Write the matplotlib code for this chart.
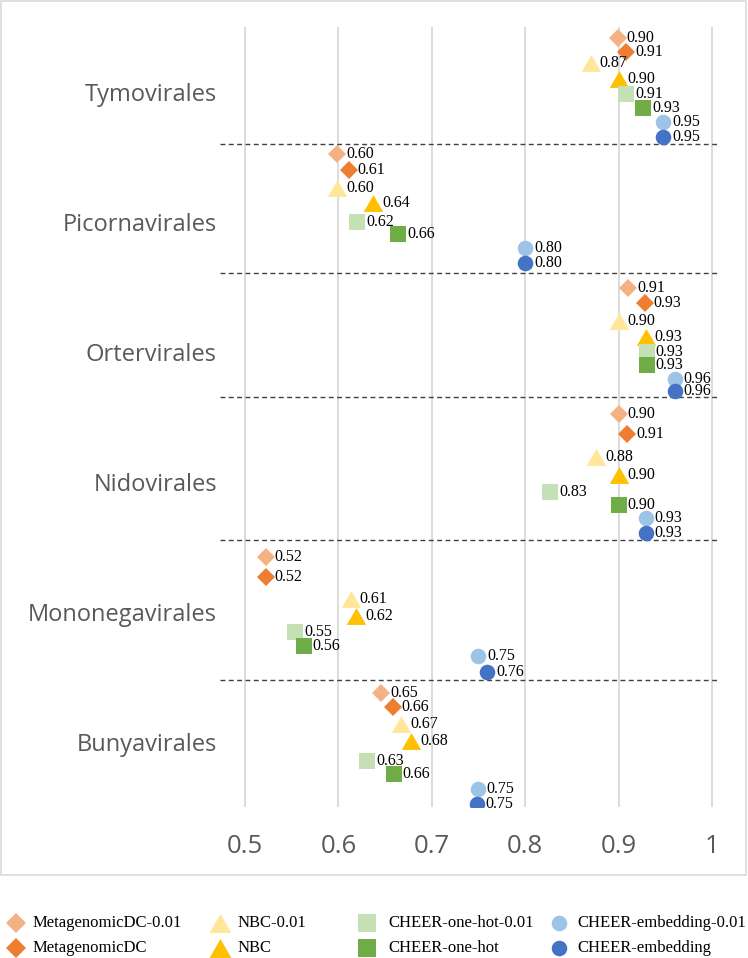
import matplotlib
matplotlib.use('Agg')
import matplotlib.pyplot as plt
from matplotlib.lines import Line2D
from matplotlib.patches import Rectangle

# categories, top to bottom
categories = ["Tymovirales", "Picornavirales", "Ortervirales",
              "Nidovirales", "Mononegavirales", "Bunyavirales"]
cat_pos = [0.5, 1.5, 2.5, 3.5, 4.5, 5.5]

# accuracy per method (x) and vertical slot inside each category (y)
mdc01_x = [0.899, 0.599, 0.910, 0.900, 0.522, 0.646]
mdc01_y = [0.089, 0.982, 2.012, 2.982, 4.077, 5.123]
mdc_x = [0.908, 0.611, 0.928, 0.909, 0.522, 0.658]
mdc_y = [0.197, 1.102, 2.123, 3.133, 4.231, 5.235]
nbc01_x = [0.870, 0.599, 0.900, 0.876, 0.613, 0.667]
nbc01_y = [0.277, 1.243, 2.262, 3.308, 4.402, 5.364]
nbc_x = [0.900, 0.637, 0.929, 0.900, 0.619, 0.678]
nbc_y = [0.405, 1.358, 2.385, 3.448, 4.533, 5.492]
oh01_x = [0.908, 0.620, 0.930, 0.827, 0.554, 0.631]
oh01_y = [0.520, 1.500, 2.500, 3.582, 4.654, 5.646]
oh_x = [0.926, 0.664, 0.930, 0.900, 0.563, 0.659]
oh_y = [0.623, 1.595, 2.602, 3.679, 4.762, 5.751]
emb01_x = [0.948, 0.800, 0.960, 0.929, 0.750, 0.749]
emb01_y = [0.731, 1.705, 2.710, 3.782, 4.841, 5.862]
emb_x = [0.948, 0.800, 0.960, 0.929, 0.759, 0.748]
emb_y = [0.848, 1.820, 2.800, 3.892, 4.962, 5.979]

separators = [0.905, 1.892, 2.852, 3.945, 5.025]
xticks = [0.5, 0.6, 0.7, 0.8, 0.9, 1.0]
xtick_labels = ["0.5", "0.6", "0.7", "0.8", "0.9", "1"]

tri = [(-1, -0.866), (1, -0.866), (0, 0.866)]

series = [
    ("MetagenomicDC-0.01", mdc01_x, mdc01_y, "D", 8.7, "#F4B183"),
    ("MetagenomicDC", mdc_x, mdc_y, "D", 8.7, "#ED7D31"),
    ("NBC-0.01", nbc01_x, nbc01_y, tri, 14, "#FFE699"),
    ("NBC", nbc_x, nbc_y, tri, 14, "#FFC000"),
    ("CHEER-one-hot-0.01", oh01_x, oh01_y, "s", 11, "#C5E0B4"),
    ("CHEER-one-hot", oh_x, oh_y, "s", 11, "#70AD47"),
    ("CHEER-embedding-0.01", emb01_x, emb01_y, "o", 11.2, "#9DC3E6"),
    ("CHEER-embedding", emb_x, emb_y, "o", 11.2, "#4472C4"),
]

W, H = 748, 958
fig = plt.figure(figsize=(W / 100, H / 100), dpi=100)

# chart area border
fig.add_artist(Rectangle((1 / W, 1 - 875 / H), 745 / W, 874 / H,
                         transform=fig.transFigure, fill=False,
                         edgecolor="#D9D9D9", lw=1.2))

x0, x1 = 0.47, 1.02
px_left = 245 - 0.03 * 934
px_right = 245 + 0.52 * 934
top_px, bot_px = 26.7, 806.7
ax = fig.add_axes([px_left / W, 1 - bot_px / H,
                   (px_right - px_left) / W, (bot_px - top_px) / H])
ax.set_xlim(x0, x1)
ax.set_ylim(6, 0)
for s in ax.spines.values():
    s.set_visible(False)

for xv in xticks:
    ax.axvline(xv, color="#D9D9D9", lw=1.3, zorder=0)

for yv in separators:
    ax.plot([0.4736, 1.0086], [yv, yv], color="#404040", lw=1.0,
            dashes=(3.5, 2.5), clip_on=False, zorder=1)

for name, xs, ys, mk, ms, col in series:
    ax.plot(xs, ys, linestyle="none", marker=mk, markersize=ms,
            color=col, markeredgewidth=0, zorder=3)
    for xv, yv in zip(xs, ys):
        ax.annotate(f"{xv:.2f}", (xv, yv), xytext=(6.5, 0),
                    textcoords="offset points", ha="left", va="center",
                    fontsize=11.5, family="Liberation Serif", color="black",
                    zorder=4)

ax.set_xticks(xticks)
ax.set_xticklabels(xtick_labels, fontsize=18.5, family="Open Sans",
                   color="#595959")
ax.set_yticks(cat_pos)
ax.set_yticklabels(categories, fontsize=17, family="Open Sans",
                   color="#595959")
ax.tick_params(axis="x", length=0, pad=20)
ax.tick_params(axis="y", length=0, pad=0)

# legend, drawn by hand in four columns
mark_x = [16, 220, 367, 559]
text_x = [33, 238, 388, 577]
rows = [923, 948]
for i, (name, xs, ys, mk, ms, col) in enumerate(series):
    c, r = i // 2, i % 2
    fig.add_artist(Line2D([mark_x[c] / W], [1 - rows[r] / H],
                          transform=fig.transFigure, linestyle="none",
                          marker=mk, markersize=ms * 1.12 if mk != "o" else ms,
                          color=col, markeredgewidth=0))
    fig.text(text_x[c] / W, 1 - rows[r] / H, name, ha="left", va="center",
             fontsize=12, family="Liberation Serif", color="black")

fig.savefig("out.png", dpi=100)
